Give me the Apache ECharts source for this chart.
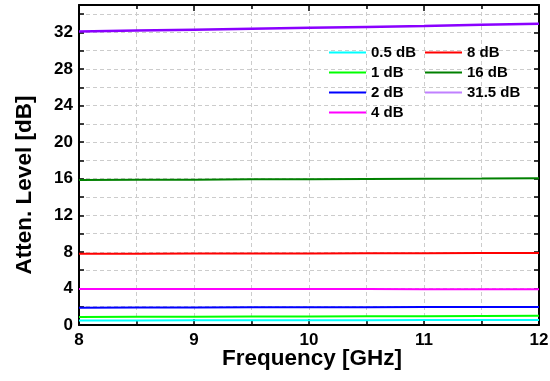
<!DOCTYPE html>
<html>
<head>
<meta charset="utf-8">
<script src="https://cdn.jsdelivr.net/npm/echarts@6/dist/echarts.min.js"></script>
<style>
  html, body { margin: 0; padding: 0; background: #fff; }
  #chart { width: 550px; height: 381px; }
</style>
</head>
<body>
<div id="chart"></div>
<script>
// Frequency sweep points (GHz)
const freqs = [8, 8.5, 9, 9.5, 10, 10.5, 11, 11.5, 12];

// Measured attenuation for each attenuator state (dB)
const att05  = [0.50, 0.50, 0.51, 0.52, 0.52, 0.53, 0.54, 0.55, 0.55];
const att1   = [0.88, 0.90, 0.91, 0.93, 0.94, 0.96, 0.97, 0.99, 1.00];
const att2   = [1.90, 1.91, 1.92, 1.93, 1.94, 1.95, 1.96, 1.97, 1.98];
const att4   = [3.95, 3.95, 3.95, 3.94, 3.94, 3.93, 3.92, 3.90, 3.90];
const att8   = [7.80, 7.80, 7.82, 7.83, 7.83, 7.85, 7.86, 7.87, 7.88];
const att16  = [15.85, 15.88, 15.90, 15.93, 15.95, 15.98, 16.00, 16.02, 16.05];
const att315 = [32.10, 32.20, 32.30, 32.40, 32.50, 32.60, 32.70, 32.85, 32.95];

const seriesNames = ['0.5 dB', '1 dB', '2 dB', '4 dB', '8 dB', '16 dB', '31.5 dB'];
const seriesData = [att05, att1, att2, att4, att8, att16, att315];
const seriesColors = ['#00ffff', '#00ff00', '#0000ff', '#ff00ff', '#ff0000', '#008000', '#8a00ff'];
const seriesWidths = [2, 2, 2, 2, 2, 2, 2.5];

const xTickLabels = ['8', '9', '10', '11', '12'];
const yTickLabels = ['0', '4', '8', '12', '16', '20', '24', '28', '32'];

const FONT = '"Liberation Sans", Arial, sans-serif';

const chart = echarts.init(document.getElementById('chart'), null, { renderer: 'canvas' });

const gridLine = { show: true, lineStyle: { color: '#cccccc', width: 1, type: [4, 3] } };

const series = seriesNames.map((name, i) => ({
  name: name,
  type: 'line',
  xAxisIndex: 0,
  yAxisIndex: 0,
  symbol: 'none',
  showSymbol: false,
  smooth: false,
  data: freqs.map((f, j) => [f, seriesData[i][j]]),
  lineStyle: { color: seriesColors[i], width: seriesWidths[i] },
  itemStyle: { color: seriesColors[i] },
  z: 3
}));

const legendText = { fontFamily: FONT, fontWeight: 'bold', fontSize: 15, color: '#000', lineHeight: 15 };
const legendBase = {
  orient: 'vertical', top: 45, padding: 0,
  icon: 'rect', itemWidth: 37, itemHeight: 2, itemGap: 5,
  textStyle: legendText
};

chart.setOption({
  animation: false,
  backgroundColor: '#fff',
  grid: { left: 79, right: 11, top: 5, bottom: 56, containLabel: false, outerBoundsMode: 'none' },
  legend: [
    Object.assign({}, legendBase, {
      left: 329,
      data: seriesNames.slice(0, 4)
    }),
    Object.assign({}, legendBase, {
      left: 425,
      data: seriesNames.slice(4).map((n, k) => k === 2
        ? { name: n, itemStyle: { color: '#c080ff' } }
        : n)
    })
  ],
  xAxis: [
    {
      type: 'value', position: 'bottom', min: 8, max: 12, interval: 1,
      name: 'Frequency [GHz]', nameLocation: 'middle', nameGap: 22, nameMoveOverlap: false,
      nameTextStyle: {
        fontFamily: FONT, fontWeight: 'bold', fontSize: 22.5, color: '#000',
        padding: [0, 0, 0, 6]
      },
      axisLine: { show: true, onZero: false, lineStyle: { color: '#000', width: 2 } },
      axisTick: { show: true, inside: true, length: 6, lineStyle: { color: '#000', width: 1.5 } },
      minorTick: { show: true, splitNumber: 2, length: 4, lineStyle: { color: '#000', width: 1.5 } },
      axisLabel: {
        fontFamily: FONT, fontWeight: 'bold', fontSize: 17, color: '#000', margin: 7,
        formatter: v => xTickLabels[Math.round(v - 8)] ?? ''
      },
      splitLine: gridLine,
      minorSplitLine: gridLine
    },
    {
      type: 'value', position: 'top', min: 8, max: 12, interval: 1,
      axisLine: { show: true, onZero: false, lineStyle: { color: '#000', width: 2 } },
      axisTick: { show: true, inside: true, length: 6, lineStyle: { color: '#000', width: 1.5 } },
      minorTick: { show: true, splitNumber: 2, length: 4, lineStyle: { color: '#000', width: 1.5 } },
      axisLabel: { show: false },
      splitLine: { show: false }
    }
  ],
  yAxis: [
    {
      type: 'value', position: 'left', min: 0, max: 35, interval: 2,
      name: 'Atten. Level [dB]', nameLocation: 'middle', nameGap: 43, nameRotate: 90,
      nameMoveOverlap: false,
      nameTextStyle: {
        fontFamily: FONT, fontWeight: 'bold', fontSize: 22.5, color: '#000',
        padding: [0, 40, 0, 0]
      },
      axisLine: { show: true, onZero: false, lineStyle: { color: '#000', width: 2 } },
      axisTick: { show: true, inside: true, length: 5, lineStyle: { color: '#000', width: 1.5 } },
      axisLabel: {
        fontFamily: FONT, fontWeight: 'bold', fontSize: 17, color: '#000', margin: 6,
        showMaxLabel: false,
        formatter: v => (v % 4 === 0 && yTickLabels.includes(String(v))) ? String(v) : ''
      },
      splitLine: gridLine
    },
    {
      type: 'value', position: 'right', min: 0, max: 35, interval: 2,
      axisLine: { show: true, onZero: false, lineStyle: { color: '#000', width: 2 } },
      axisTick: { show: true, inside: true, length: 5, lineStyle: { color: '#000', width: 1.5 } },
      axisLabel: { show: false },
      splitLine: { show: false }
    }
  ],
  series: series
});
</script>
</body>
</html>
